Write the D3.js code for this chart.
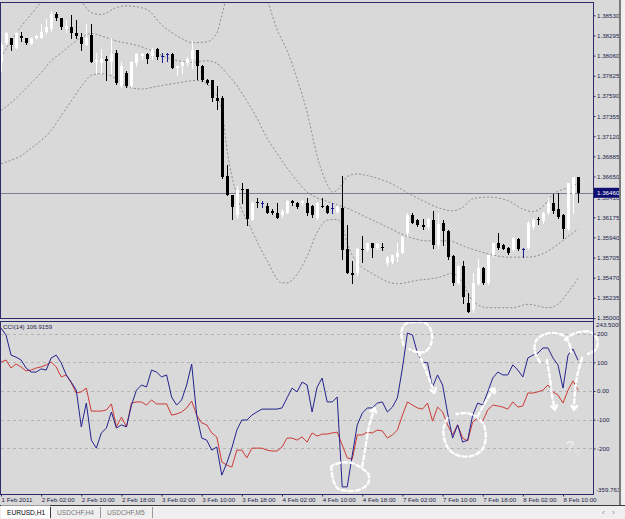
<!DOCTYPE html>
<html>
<head>
<meta charset="utf-8">
<script src="https://cdn.jsdelivr.net/npm/d3@7"></script>
<style>
  body { margin: 0; background: #ffffff; }
  svg { display: block; font-family: "Liberation Sans", Arial, sans-serif; }
</style>
</head>
<body>
<div id="chart"></div>
<script>
// EURUSD H1 candles (bar 0 = 1 Feb 18:00)
var barOpen = [1.3798,1.3821,1.3826,1.3815,1.3829,1.3826,1.3820,1.3826,1.3827,1.3833,
  1.3837,1.3855,1.3850,1.3837,1.3839,1.3832,1.3828,1.3818,1.3830,1.3798,
  1.3797,1.3802,1.3798,1.3809,1.3771,1.3786,1.3770,1.3797,1.3806,1.3808,
  1.3806,1.3814,1.3806,1.3808,1.3808,1.3791,1.3794,1.3797,1.3802,1.3812,
  1.3794,1.3778,1.3777,1.3757,1.3756,1.3666,1.3644,1.3620,1.3651,1.3651,
  1.3614,1.3635,1.3634,1.3631,1.3625,1.3623,1.3620,1.3623,1.3637,1.3634,
  1.3634,1.3634,1.3631,1.3617,1.3631,1.3631,1.3628,1.3624,1.3628,1.3581,
  1.3553,1.3552,1.3581,1.3579,1.3587,1.3582,1.3583,1.3564,1.3565,1.3571,
  1.3576,1.3599,1.3620,1.3614,1.3608,1.3606,1.3614,1.3585,1.3611,1.3602,
  1.3572,1.3541,1.3561,1.3518,1.3509,1.3540,1.3558,1.3541,1.3573,1.3587,
  1.3585,1.3582,1.3579,1.3592,1.3581,1.3582,1.3606,1.3616,1.3613,1.3622,
  1.3634,1.3627,1.3620,1.3604,1.3645,1.3664];
var barHigh = [1.3821,1.3833,1.3827,1.3833,1.3833,1.3827,1.3828,1.3830,1.3843,1.3849,
  1.3858,1.3857,1.3850,1.3847,1.3853,1.3847,1.3832,1.3843,1.3843,1.3809,
  1.3814,1.3806,1.3826,1.3812,1.3798,1.3788,1.3800,1.3809,1.3809,1.3809,
  1.3815,1.3815,1.3809,1.3809,1.3809,1.3794,1.3800,1.3804,1.3823,1.3812,
  1.3795,1.3779,1.3777,1.3771,1.3759,1.3678,1.3644,1.3654,1.3657,1.3651,
  1.3637,1.3640,1.3637,1.3634,1.3627,1.3634,1.3627,1.3638,1.3638,1.3635,
  1.3638,1.3640,1.3632,1.3635,1.3640,1.3632,1.3634,1.3632,1.3666,1.3608,
  1.3567,1.3582,1.3596,1.3588,1.3588,1.3587,1.3587,1.3572,1.3574,1.3587,
  1.3596,1.3622,1.3623,1.3615,1.3616,1.3617,1.3625,1.3623,1.3614,1.3603,
  1.3573,1.3562,1.3567,1.3529,1.3553,1.3569,1.3559,1.3574,1.3588,1.3599,
  1.3586,1.3583,1.3594,1.3593,1.3582,1.3613,1.3617,1.3618,1.3624,1.3640,
  1.3645,1.3646,1.3621,1.3658,1.3665,1.3665];
var barLow = [1.3788,1.3819,1.3812,1.3815,1.3823,1.3820,1.3819,1.3825,1.3826,1.3832,
  1.3835,1.3847,1.3837,1.3833,1.3826,1.3827,1.3812,1.3818,1.3798,1.3786,
  1.3786,1.3777,1.3786,1.3773,1.3769,1.3769,1.3769,1.3794,1.3802,1.3797,
  1.3802,1.3802,1.3798,1.3800,1.3791,1.3783,1.3786,1.3795,1.3792,1.3779,
  1.3776,1.3773,1.3753,1.3744,1.3663,1.3643,1.3616,1.3617,1.3634,1.3608,
  1.3614,1.3629,1.3630,1.3622,1.3621,1.3617,1.3618,1.3622,1.3632,1.3628,
  1.3632,1.3620,1.3618,1.3616,1.3629,1.3622,1.3623,1.3623,1.3569,1.3552,
  1.3541,1.3550,1.3565,1.3578,1.3571,1.3581,1.3579,1.3562,1.3564,1.3567,
  1.3576,1.3596,1.3611,1.3607,1.3604,1.3604,1.3582,1.3582,1.3585,1.3569,
  1.3538,1.3540,1.3518,1.3507,1.3507,1.3539,1.3540,1.3540,1.3572,1.3581,
  1.3580,1.3575,1.3578,1.3579,1.3571,1.3581,1.3604,1.3610,1.3611,1.3621,
  1.3623,1.3617,1.3593,1.3603,1.3623,1.3635];
var barClose = [1.3818,1.3832,1.3818,1.3832,1.3826,1.3821,1.3827,1.3829,1.3833,1.3839,
  1.3855,1.3850,1.3839,1.3841,1.3832,1.3829,1.3820,1.3827,1.3798,1.3801,
  1.3802,1.3800,1.3808,1.3774,1.3794,1.3770,1.3798,1.3808,1.3808,1.3802,
  1.3812,1.3804,1.3806,1.3808,1.3791,1.3794,1.3798,1.3802,1.3812,1.3794,
  1.3777,1.3774,1.3757,1.3753,1.3664,1.3643,1.3629,1.3649,1.3650,1.3616,
  1.3634,1.3634,1.3634,1.3623,1.3622,1.3617,1.3625,1.3637,1.3634,1.3629,
  1.3637,1.3622,1.3620,1.3634,1.3630,1.3623,1.3628,1.3629,1.3579,1.3552,
  1.3550,1.3581,1.3580,1.3587,1.3582,1.3586,1.3582,1.3571,1.3573,1.3576,
  1.3594,1.3620,1.3611,1.3608,1.3606,1.3616,1.3585,1.3610,1.3602,1.3571,
  1.3541,1.3561,1.3524,1.3507,1.3541,1.3558,1.3541,1.3573,1.3587,1.3582,
  1.3581,1.3576,1.3593,1.3580,1.3581,1.3611,1.3614,1.3615,1.3623,1.3634,
  1.3625,1.3618,1.3604,1.3657,1.3664,1.3646];

// band lines as [bar, price]
var bandUpper = [[0,1.3804],[2,1.3823],[4,1.3840],[6,1.3854],[8,1.3868],[10,1.3879],[12,1.3884],
  [14,1.3879],[16,1.3869],[18,1.3856],[20,1.3854],[23,1.3862],[25,1.3864],[29,1.3860],[32,1.3842],
  [36,1.3826],[38,1.3821],[41,1.3822],[43,1.3832],[44,1.3853],[45,1.3876],[48,1.3917],[51,1.3911],
  [53,1.3873],[55,1.3837],[57,1.3812],[59,1.3779],[61,1.3740],[63,1.3689],[65,1.3656],[66,1.3647],
  [67,1.3649],[68,1.3656],[69,1.3665],[71,1.3668],[73,1.3666],[76,1.3661],[79,1.3653],[81,1.3646],
  [84,1.3637],[87,1.3629],[90,1.3625],[92,1.3629],[94,1.3639],[97,1.3641],[101,1.3637],[104,1.3627],
  [106,1.3624],[108,1.3630],[110,1.3644],[112,1.3650],[114,1.3653],[115,1.3660]];
var bandMiddle = [[0,1.3742],[2,1.3751],[4,1.3762],[6,1.3774],[8,1.3786],[10,1.3800],[12,1.3809],
  [14,1.3819],[16,1.3827],[18,1.3832],[20,1.3829],[23,1.3823],[27,1.3818],[29,1.3814],[34,1.3802],
  [38,1.3798],[41,1.3800],[43,1.3797],[45,1.3785],[47,1.3771],[49,1.3753],[51,1.3733],[53,1.3710],
  [55,1.3692],[57,1.3675],[59,1.3660],[61,1.3647],[63,1.3640],[65,1.3636],[67,1.3632],[69,1.3628],
  [73,1.3617],[77,1.3606],[81,1.3595],[85,1.3590],[89,1.3590],[93,1.3582],[97,1.3575],[101,1.3571],
  [105,1.3571],[108,1.3575],[111,1.3586],[113,1.3595],[115,1.3604]];
var bandLower = [[0,1.3680],[2,1.3684],[4,1.3689],[6,1.3698],[8,1.3707],[10,1.3719],[12,1.3736],
  [14,1.3753],[16,1.3770],[18,1.3783],[20,1.3785],[23,1.3779],[25,1.3770],[28,1.3767],[31,1.3770],
  [35,1.3774],[39,1.3777],[41,1.3773],[42,1.3767],[44,1.3744],[45,1.3698],[46,1.3666],[47,1.3643],
  [50,1.3602],[53,1.3567],[56,1.3541],[57,1.3541],[59,1.3551],[61,1.3572],[63,1.3600],[65,1.3614],
  [67,1.3615],[68,1.3608],[69,1.3587],[71,1.3565],[74,1.3552],[79,1.3540],[83,1.3544],[87,1.3547],
  [90,1.3552],[92,1.3541],[94,1.3520],[97,1.3512],[102,1.3512],[105,1.3516],[109,1.3512],
  [111,1.3516],[113,1.3530],[115,1.3546]];

var bidPrice = 1.36460;
var priceTicks = [1.38530,1.38295,1.38060,1.37825,1.37590,1.37355,1.37120,1.36885,
  1.36650,1.36410,1.36175,1.35940,1.35705,1.35470,1.35235,1.35000];

// CCI(14) (blue) and second CCI (red), one value per bar
var cciBlue = [219,195,125,118,108,80,66,66,77,73,115,125,98,56,31,3,-125,-42,-171,-199,
  -146,-129,-73,-129,-118,-125,-49,3,21,14,73,66,49,56,-21,-49,-31,21,94,-84,
  -164,-171,-206,-195,-293,-251,-199,-136,-101,-101,-84,-73,-63,-63,-63,-63,-59,-24,10,-3,
  31,21,-73,14,45,-38,-38,-21,-334,-334,-223,-118,-77,-59,-59,-42,-38,-73,-56,-24,
  80,202,195,132,101,98,14,56,21,-77,-164,-118,-178,-171,-84,-42,-49,-3,45,66,
  56,56,91,73,49,115,125,132,150,150,115,91,10,125,146,106.9159];
var cciRed = [101,108,80,94,84,70,73,80,84,91,101,84,49,56,28,-7,-3,10,-70,-70,
  -70,-66,-45,-125,-91,-125,-42,-38,-38,-49,-31,-45,-45,-45,-84,-80,-73,-59,-35,-84,
  -111,-118,-146,-160,-247,-258,-265,-206,-206,-233,-199,-199,-199,-206,-209,-209,-195,-164,-164,-171,
  -160,-178,-146,-157,-150,-150,-146,-143,-188,-233,-237,-153,-153,-143,-146,-136,-139,-164,-153,-136,
  -84,-38,-49,-59,-63,-42,-105,-56,-73,-118,-153,-118,-164,-174,-108,-94,-105,-66,-49,-52,
  -56,-63,-38,-56,-52,-7,-7,-3,3,21,-3,-14,-42,3,35,3];
var cciMax = 243.5009, cciMin = -359.763;
var cciLevels = [200, 100, 0, -100, -200];

var timeBars = [0,8,16,24,32,40,48,56,64,72,80,88,96,104,112];
var timeLabels = ['1 Feb 2011','2 Feb 02:00','2 Feb 10:00','2 Feb 18:00','3 Feb 02:00',
  '3 Feb 10:00','3 Feb 18:00','4 Feb 02:00','4 Feb 10:00','4 Feb 18:00','7 Feb 02:00',
  '7 Feb 10:00','7 Feb 18:00','8 Feb 02:00','8 Feb 10:00'];
var tabNames = ['EURUSD,H1','USDCHF,H4','USDCHF,M5'];

// hand drawn marks on the CCI window, [bar, cci]
var markLoops = [
  [[65.8,-262],[66.2,-310],[67.2,-340],[69.2,-348],[71.6,-343],[73.2,-320],[73.2,-290],[71.8,-268],[69.8,-250],[67.6,-250],[66.2,-258]],
  [[80.2,160],[79.8,206],[80.6,233],[82.4,240],[84.6,237],[85.8,206],[85.6,160],[84.4,136],[82.8,136],[81.4,146]],
  [[89,-94],[88.2,-129],[88.4,-171],[89.4,-206],[91.4,-226],[93.8,-226],[95.8,-206],[96.6,-164],[96.2,-118],[94.8,-91],[92.8,-77],[90.8,-80]],
  [[107.4,101],[106.4,136],[106.6,174],[108,195],[110.2,202],[112.2,192],[113.2,167],[113.6,136]],
  [[112.4,178],[113.6,195],[115.4,206],[117.4,206],[118.8,181],[118.6,146],[117,129]]
];
var markArrows = [
  [[72.0,-262],[72.6,-199],[73.4,-118],[74.2,-73],[74.4,-59]],
  [[83.2,136],[83.8,108],[84.8,66],[85.8,21],[86.4,-7]],
  [[95,-87],[96.2,-49],[97.4,-14],[98.4,10]],
  [[108.8,108],[109.4,45],[109.8,-14],[110.4,-66]],
  [[115.8,115],[115,66],[114.4,3],[114.2,-66]]
];
var marksText = [{bar: 113.4, cci: -210, size: 15, op: 0.85}, {bar: 114.9, cci: -235, size: 10, op: 0.6}];

var W = 625, H = 519;
var left = 1, right = 593;
var mainTop = 2, mainBottom = 318, cciTop = 321, cciBottom = 494;
var frame = '#2c2c6c', textCol = '#1c1c4c', bg = '#d9d9d9';

var svg = d3.select('#chart').append('svg').attr('width', W).attr('height', H);

var x = d3.scaleLinear().domain([0, 112]).range([1, 563]);
var yP = d3.scaleLinear().domain([1.35, 1.3853]).range([mainBottom, 15.3]);
var yC = d3.scaleLinear().domain([cciMin, cciMax]).range([494.3, 321.1]);

svg.append('rect').attr('width', W).attr('height', 505).attr('fill', bg);

var defs = svg.append('defs');
defs.append('clipPath').attr('id', 'clipMain').append('rect')
  .attr('x', left).attr('y', mainTop).attr('width', right - left).attr('height', mainBottom - mainTop);
defs.append('clipPath').attr('id', 'clipCci').append('rect')
  .attr('x', left).attr('y', cciTop).attr('width', right - left).attr('height', cciBottom - cciTop);

// ---- main window ----
var gMain = svg.append('g').attr('clip-path', 'url(#clipMain)');

var bandLine = d3.line().x(d => x(d[0])).y(d => yP(d[1])).curve(d3.curveMonotoneX);
gMain.selectAll('path.band')
  .data([bandUpper, bandMiddle, bandLower])
  .join('path')
  .attr('class', 'band')
  .attr('d', bandLine)
  .attr('fill', 'none')
  .attr('stroke', '#8e8e8e')
  .attr('stroke-width', 1)
  .attr('stroke-dasharray', '2,2');

gMain.append('line')
  .attr('x1', left).attr('x2', right)
  .attr('y1', Math.round(yP(bidPrice)) + 0.5).attr('y2', Math.round(yP(bidPrice)) + 0.5)
  .attr('stroke', '#7b8090');

var bars = barOpen.map(function(o, i) {
  return {i: i, o: o, h: barHigh[i], l: barLow[i], c: barClose[i]};
});
function barColor(d) {
  if (d.c > d.o) return '#ffffff';
  if (d.c < d.o) return '#000000';
  return '#1c1c8c';
}
var px = d => Math.round(x(d.i));

gMain.selectAll('line.wick')
  .data(bars)
  .join('line')
  .attr('class', 'wick')
  .attr('x1', d => px(d) + 0.5).attr('x2', d => px(d) + 0.5)
  .attr('y1', d => Math.round(yP(d.h))).attr('y2', d => Math.round(yP(d.l)) + 1)
  .attr('stroke', barColor);

gMain.selectAll('rect.body')
  .data(bars.filter(d => d.o !== d.c))
  .join('rect')
  .attr('class', 'body')
  .attr('x', d => px(d) - 1)
  .attr('width', 3)
  .attr('y', d => Math.round(yP(Math.max(d.o, d.c))))
  .attr('height', d => Math.max(1, Math.round(yP(Math.min(d.o, d.c))) - Math.round(yP(Math.max(d.o, d.c)))))
  .attr('fill', barColor);

gMain.selectAll('line.doji')
  .data(bars.filter(d => d.o === d.c))
  .join('line')
  .attr('class', 'doji')
  .attr('x1', d => px(d) - 1).attr('x2', d => px(d) + 2)
  .attr('y1', d => Math.round(yP(d.o)) + 0.5).attr('y2', d => Math.round(yP(d.o)) + 0.5)
  .attr('stroke', barColor);

// ---- CCI window ----
var gCci = svg.append('g').attr('clip-path', 'url(#clipCci)');
gCci.selectAll('line.level')
  .data(cciLevels)
  .join('line')
  .attr('class', 'level')
  .attr('x1', left).attr('x2', right)
  .attr('y1', d => Math.round(yC(d)) + 0.5).attr('y2', d => Math.round(yC(d)) + 0.5)
  .attr('stroke', '#b4b4b4')
  .attr('stroke-dasharray', '3,3');

var cciLine = d3.line().x((d, i) => x(i)).y(d => yC(d));
gCci.append('path').datum(cciRed).attr('d', cciLine)
  .attr('fill', 'none').attr('stroke', '#cc3b35').attr('stroke-width', 1);
gCci.append('path').datum(cciBlue).attr('d', cciLine)
  .attr('fill', 'none').attr('stroke', '#23238f').attr('stroke-width', 1);

svg.append('text')
  .attr('x', 3).attr('y', 329)
  .attr('font-size', 6.2).attr('fill', textCol)
  .text('CCI(14) ' + cciBlue[cciBlue.length - 1].toFixed(4));

// hand drawn white marks
var gMarks = svg.append('g')
  .attr('fill', 'none').attr('stroke', '#ffffff')
  .attr('stroke-width', 2.4).attr('stroke-dasharray', '4,3')
  .attr('stroke-linecap', 'round');
var markLine = d3.line().x(d => x(d[0])).y(d => yC(d[1])).curve(d3.curveCatmullRom);
gMarks.selectAll('path.loop').data(markLoops).join('path').attr('class', 'loop').attr('d', markLine);
gMarks.selectAll('path.arrow').data(markArrows).join('path').attr('class', 'arrow').attr('d', markLine);
gMarks.selectAll('path.head')
  .data(markArrows)
  .join('path')
  .attr('class', 'head')
  .attr('stroke-dasharray', null)
  .attr('d', function(pts) {
    var a = pts[pts.length - 2], b = pts[pts.length - 1];
    var x1 = x(a[0]), y1 = yC(a[1]), x2 = x(b[0]), y2 = yC(b[1]);
    var ang = Math.atan2(y2 - y1, x2 - x1), len = 5;
    var p1 = [x2 - len * Math.cos(ang - 0.6), y2 - len * Math.sin(ang - 0.6)];
    var p2 = [x2 - len * Math.cos(ang + 0.6), y2 - len * Math.sin(ang + 0.6)];
    return 'M' + p1 + 'L' + [x2, y2] + 'L' + p2;
  });
svg.selectAll('text.qm')
  .data(marksText)
  .join('text')
  .attr('class', 'qm')
  .attr('x', d => x(d.bar)).attr('y', d => yC(d.cci))
  .attr('text-anchor', 'middle')
  .attr('font-size', d => d.size)
  .attr('fill', '#f4f4f4').attr('opacity', d => d.op)
  .text('?');

// ---- frames ----
[[mainTop, mainBottom], [cciTop, cciBottom]].forEach(function(r) {
  svg.append('rect')
    .attr('x', 0.5).attr('y', r[0] + 0.5)
    .attr('width', right).attr('height', r[1] - r[0])
    .attr('fill', 'none').attr('stroke', frame);
});

// price axis (the label under the bid box only peeks out below it)
var bidY = yP(bidPrice);
defs.append('clipPath').attr('id', 'clipUnderBid').append('rect')
  .attr('x', -5).attr('y', bidY + 5 - yP(1.36410)).attr('width', 40).attr('height', 10);
var pAxis = svg.append('g')
  .attr('transform', 'translate(' + (right + 0.5) + ',0)')
  .call(d3.axisRight(yP).tickValues(priceTicks).tickSize(2).tickFormat(d => d.toFixed(5)));
pAxis.select('.domain').remove();
pAxis.selectAll('line').attr('stroke', frame);
pAxis.selectAll('text').attr('x', 3.5).attr('font-size', 6.2).attr('fill', textCol)
  .attr('font-family', '"Liberation Sans", Arial, sans-serif');
pAxis.selectAll('.tick').filter(d => d === 1.36410).select('text')
  .attr('clip-path', 'url(#clipUnderBid)');

// bid label
svg.append('rect').attr('x', right + 1).attr('y', bidY - 5).attr('width', 28).attr('height', 10)
  .attr('fill', '#0d0d72');
svg.append('text').attr('x', right + 4).attr('y', bidY + 2.2)
  .attr('font-size', 6.2).attr('fill', '#ffffff').text(bidPrice.toFixed(5));

// CCI axis
var cAxis = svg.append('g')
  .attr('transform', 'translate(' + (right + 0.5) + ',0)')
  .call(d3.axisRight(yC).tickValues(cciLevels).tickSize(2).tickFormat(d => d === 0 ? '0.00' : String(d)));
cAxis.select('.domain').remove();
cAxis.selectAll('line').attr('stroke', frame);
cAxis.selectAll('text').attr('x', 3.5).attr('font-size', 6.2).attr('fill', textCol)
  .attr('font-family', '"Liberation Sans", Arial, sans-serif');
svg.append('text').attr('x', right + 3).attr('y', yC(cciMax) + 6)
  .attr('font-size', 6.2).attr('fill', textCol).text(cciMax.toFixed(4));
svg.append('text').attr('x', right + 3).attr('y', yC(cciMin) - 2)
  .attr('font-size', 6.2).attr('fill', textCol).text(cciMin.toFixed(3));

// axis line on the right
svg.append('line').attr('x1', right + 0.5).attr('x2', right + 0.5)
  .attr('y1', mainTop).attr('y2', cciBottom + 1).attr('stroke', frame);

// time axis
var tAxis = svg.append('g')
  .attr('transform', 'translate(0,' + (cciBottom + 0.5) + ')')
  .call(d3.axisBottom(x).tickValues(timeBars).tickSize(2).tickFormat((d, i) => timeLabels[i]));
tAxis.select('.domain').remove();
tAxis.selectAll('line').attr('stroke', frame);
tAxis.selectAll('text').attr('text-anchor', 'start').attr('x', 0).attr('y', 3)
  .attr('font-size', 6.2).attr('fill', textCol)
  .attr('font-family', '"Liberation Sans", Arial, sans-serif');

// window edge on the right
svg.append('rect').attr('x', 619).attr('y', 0).attr('width', 2).attr('height', 505).attr('fill', '#7a7a7a');
svg.append('rect').attr('x', 621).attr('y', 0).attr('width', 4).attr('height', 505).attr('fill', '#efefef');

// ---- tab bar ----
svg.append('rect').attr('x', 0).attr('y', 505).attr('width', W).attr('height', 14).attr('fill', '#efefef');
svg.append('line').attr('x1', 0).attr('x2', W).attr('y1', 505.5).attr('y2', 505.5).attr('stroke', '#3a3a3a');
svg.append('rect').attr('x', 1).attr('y', 505.5).attr('width', 49).attr('height', 13).attr('fill', '#ffffff');
var tabX = [7, 57, 107];
svg.selectAll('text.tab')
  .data(tabNames)
  .join('text')
  .attr('class', 'tab')
  .attr('x', (d, i) => tabX[i]).attr('y', 515)
  .attr('font-size', 6.6)
  .attr('fill', (d, i) => i === 0 ? '#000000' : '#777777')
  .text(d => d);
svg.selectAll('line.tabsep')
  .data([50, 100, 152])
  .join('line')
  .attr('class', 'tabsep')
  .attr('x1', d => d + 0.5).attr('x2', d => d + 0.5)
  .attr('y1', 507).attr('y2', 518)
  .attr('stroke', (d, i) => i === 0 ? '#3a3a3a' : '#9a9a9a');
svg.selectAll('text.nav')
  .data(['\u2039', '\u203A'])
  .join('text')
  .attr('class', 'nav')
  .attr('x', (d, i) => 602 + i * 10).attr('y', 515)
  .attr('font-size', 8).attr('fill', '#888888')
  .text(d => d);
</script>
</body>
</html>
